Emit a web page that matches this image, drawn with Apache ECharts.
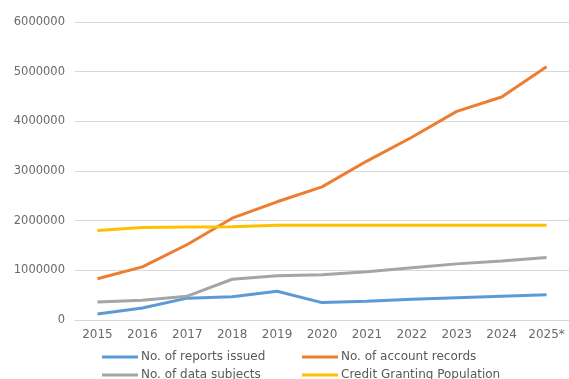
<!DOCTYPE html>
<html><head><meta charset="utf-8">
<script src="https://cdn.jsdelivr.net/npm/echarts@6/dist/echarts.min.js"></script>
<style>html,body{margin:0;padding:0;background:#fff}#c{width:569px;height:379px}</style>
</head><body><div id="c"></div>
<script>
const years = ['2015','2016','2017','2018','2019','2020','2021','2022','2023','2024','2025*'];
const yTicks = [0,1000000,2000000,3000000,4000000,5000000,6000000];
const reportsIssued = [120000,240000,440000,470000,580000,350000,380000,420000,450000,480000,510000];
const accountRecords = [830000,1070000,1520000,2050000,2380000,2680000,3200000,3680000,4200000,4490000,5100000];
const dataSubjects = [360000,400000,480000,820000,890000,910000,970000,1050000,1130000,1190000,1260000];
const creditPopulation = [1800000,1860000,1870000,1880000,1910000,1910000,1910000,1910000,1910000,1910000,1910000];
const names = ['No. of reports issued','No. of account records','No. of data subjects','Credit Granting Population'];
const colors = ['#5B9BD5','#ED7D31','#A5A5A5','#FFC000'];
const datas = [reportsIssued, accountRecords, dataSubjects, creditPopulation];

const font = 'DejaVu Sans, sans-serif';
const legendPos = [[97,346],[297,346],[97,364],[297,364]];
const chart = echarts.init(document.getElementById('c'));
chart.setOption({
  animation:false,
  grid:{left:75, top:22, width:500, height:298, containLabel:false},
  xAxis:{type:'category', data:years, boundaryGap:true,
    axisLine:{lineStyle:{color:'#d9d9d9', width:1}}, axisTick:{show:false},
    axisLabel:{color:'#6a6a6a', fontSize:12, fontFamily:font, margin:9, interval:0, hideOverlap:false}},
  yAxis:{type:'value', min:yTicks[0], max:yTicks[yTicks.length-1], interval:1000000,
    axisLine:{show:false}, axisTick:{show:false},
    splitLine:{lineStyle:{color:'#d9d9d9', width:1}},
    axisLabel:{color:'#6a6a6a', fontSize:11.5, fontFamily:font, margin:10, formatter:v=>String(v)}},
  legend: names.map((n,i)=>({data:[n], left:legendPos[i][0], top:legendPos[i][1], itemWidth:36, itemHeight:3, itemGap:4,
    icon:'rect', textStyle:{color:'#595959', fontSize:12, fontFamily:font, padding:[0,0,0,-2]}})),
  series: names.map((n,i)=>({name:n, type:'line', data:datas[i], symbol:'none', smooth:false,
    lineStyle:{color:colors[i], width:3}, itemStyle:{color:colors[i]}}))
});
</script></body></html>
